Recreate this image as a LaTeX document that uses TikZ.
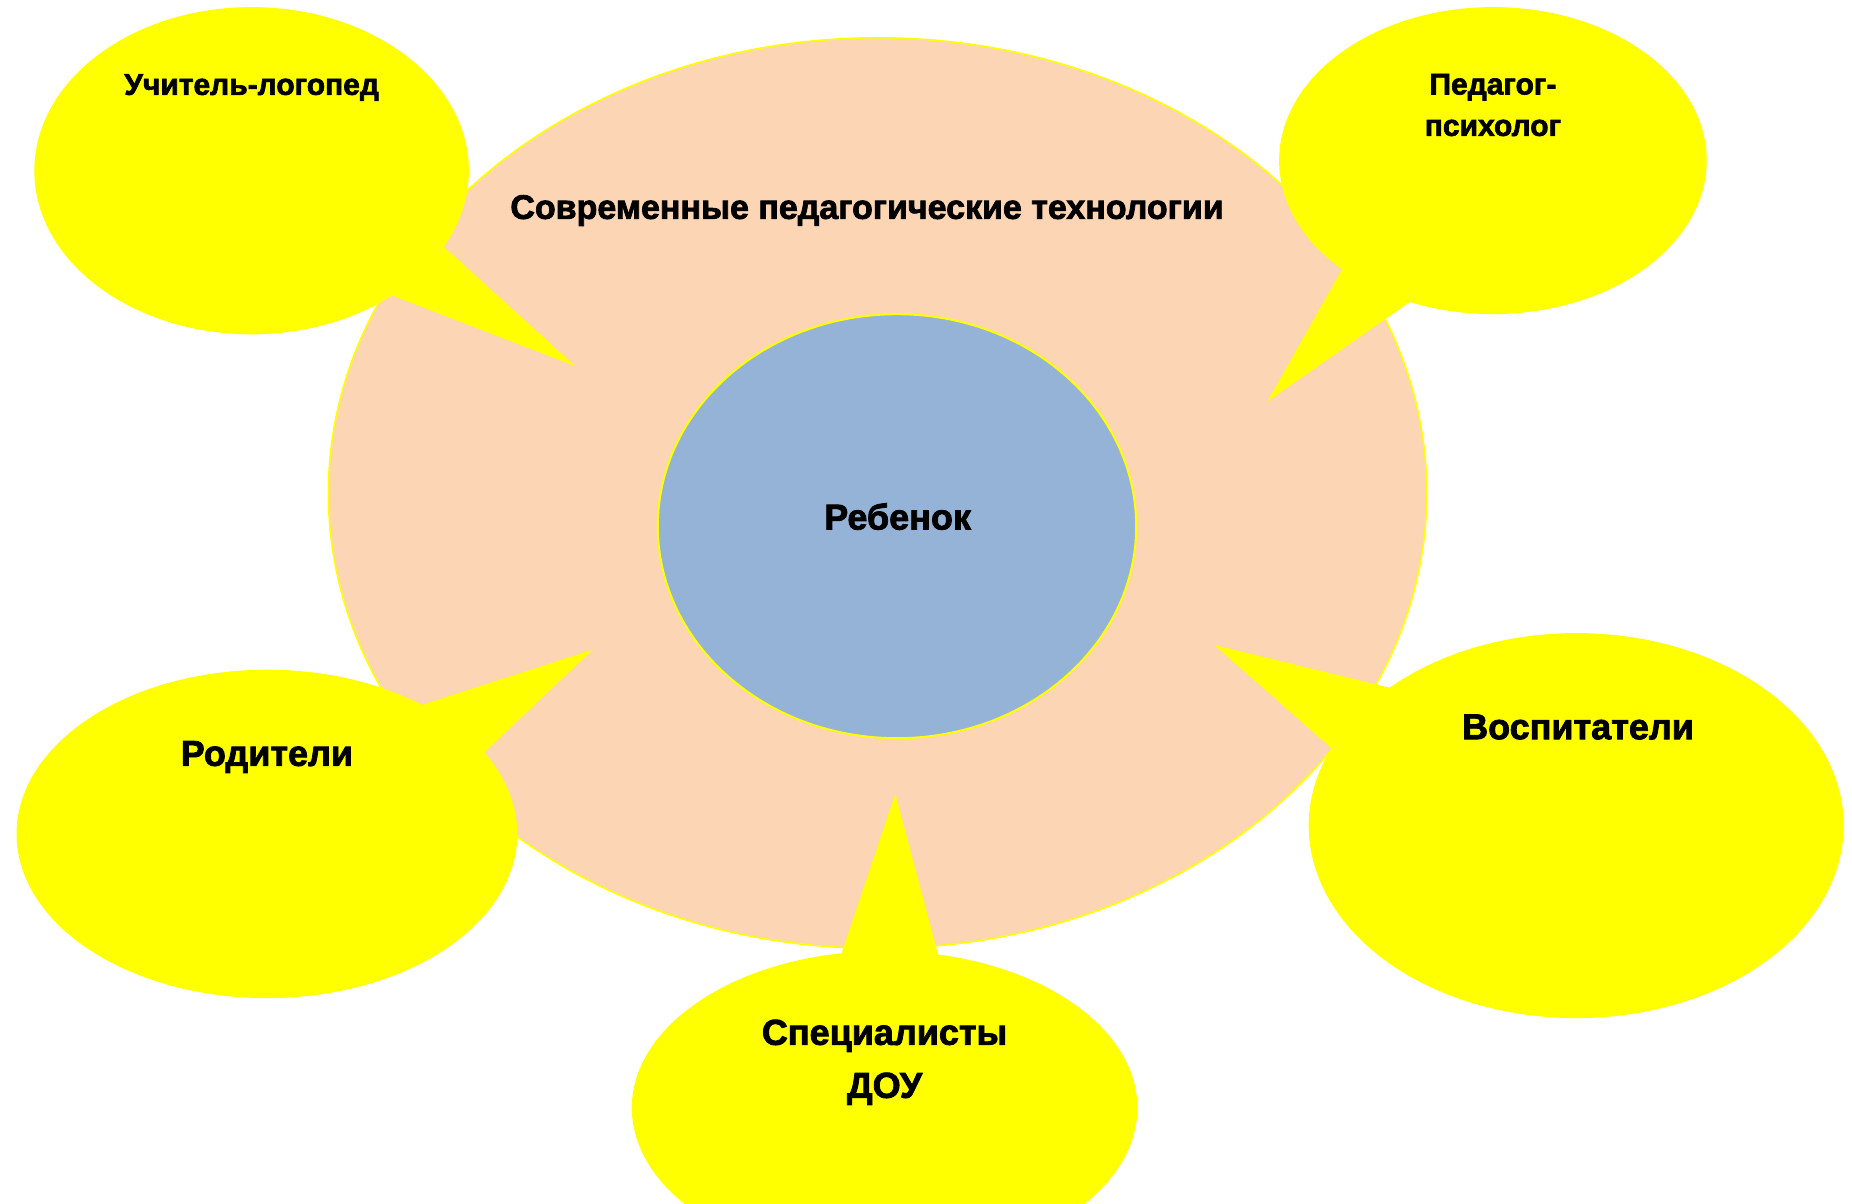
\documentclass[tikz,border=0pt]{standalone}
\usepackage{fontspec}
\setmainfont{Liberation Sans}[BoldFeatures={FakeBold=2.2}]
\usetikzlibrary{shapes.geometric,shapes.callouts}
\definecolor{peach}{RGB}{252,213,180}
\definecolor{childblue}{RGB}{149,179,215}
\definecolor{bubble}{RGB}{255,255,0}

\begin{document}
\begin{tikzpicture}[
    x=0.5pt, y=-0.5pt,
    field/.style={ellipse, fill=peach, draw=bubble, line width=0.8pt, inner sep=0pt},
    core/.style={ellipse, fill=childblue, draw=bubble, line width=1pt, inner sep=0pt},
    bubblebox/.style={ellipse callout, fill=bubble, inner sep=0pt, callout pointer arc=22},
    smalltext/.style={font=\bfseries\fontsize{15}{20.7}\selectfont, align=center},
    titletext/.style={font=\bfseries\fontsize{17}{20}\selectfont, align=center},
    bigtext/.style={font=\bfseries\fontsize{18}{26.5}\selectfont, align=center}
]
\clip (0,0) rectangle (1852,1204);
\fill[white] (0,0) rectangle (1852,1204);

% background field and the child in the middle
\node[field, minimum width=549.2pt, minimum height=455.3pt] (tech) at (877.6,493.1) {};
\node[core, minimum width=239.2pt, minimum height=212pt] (child) at (897,526.2) {};

% speech bubbles round the field
\node[bubblebox, minimum width=217.3pt, minimum height=163.6pt,
      callout absolute pointer={(575.2,366.1)}] (logo) at (251.6,170.7) {};
\node[bubblebox, minimum width=213.8pt, minimum height=153.5pt,
      callout absolute pointer={(1267.3,401.6)}] (psych) at (1492.9,160.6) {};
\node[bubblebox, minimum width=250.4pt, minimum height=164.2pt,
      callout absolute pointer={(592.9,649.6)}] (parents) at (266.9,833.9) {};
\node[bubblebox, minimum width=267.5pt, minimum height=192.5pt,
      callout absolute pointer={(1214.2,644.9)}] (tutors) at (1576.2,825.6) {};
\node[bubblebox, minimum width=252.8pt, minimum height=157pt,
      callout absolute pointer={(895.3,793.7)}] (staff) at (884.6,1107.9) {};

% labels
\node[titletext] (techtxt) at (867,210.5) {Современные педагогические технологии};
\node[bigtext] (childtxt) at (897.6,516.5) {Ребенок};
\node[smalltext] (logotxt) at (251.6,87.5) {Учитель-логопед};
\node[smalltext] (psychtxt) at (1492.9,105) {Педагог-\\психолог};
\node[bigtext] (parentstxt) at (266.9,757) {Родители};
\node[bigtext] (tutorstxt) at (1578,727) {Воспитатели};
\node[bigtext] (stafftxt) at (884.6,1062.3) {Специалисты\\ДОУ};

\end{tikzpicture}
\end{document}
